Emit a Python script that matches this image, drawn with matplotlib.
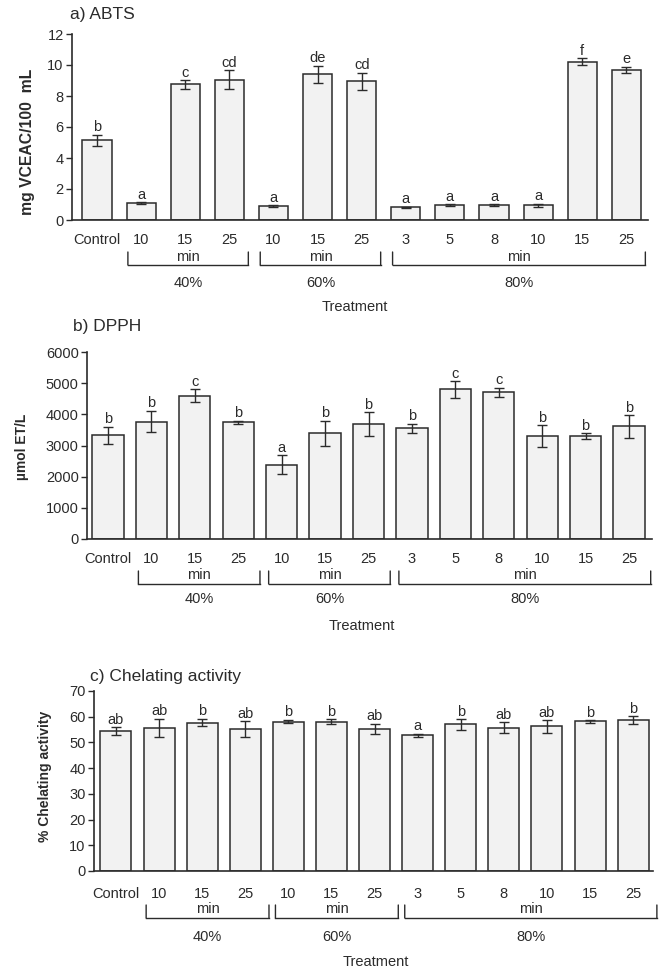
import matplotlib
matplotlib.use('Agg')
import matplotlib.pyplot as plt
from matplotlib.transforms import ScaledTranslation

plt.rcParams['font.family'] = ['Liberation Sans', 'DejaVu Sans']

# ---------------- data ----------------
tick_labels = ['Control', '10', '15', '25', '10', '15', '25', '3', '5', '8', '10', '15', '25']
group_names = ['40%', '60%', '80%']
group_first = [1, 4, 7]
group_last = [3, 6, 12]

abts_mean = [5.15, 1.10, 8.75, 9.05, 0.90, 9.40, 8.95, 0.82, 0.97, 0.97, 0.95, 10.20, 9.68]
abts_err = [0.35, 0.05, 0.28, 0.60, 0.05, 0.55, 0.55, 0.05, 0.04, 0.04, 0.10, 0.22, 0.22]
abts_letters = ['b', 'a', 'c', 'cd', 'a', 'de', 'cd', 'a', 'a', 'a', 'a', 'f', 'e']

dpph_mean = [3330, 3770, 4600, 3740, 2380, 3400, 3690, 3550, 4800, 4710, 3300, 3300, 3610]
dpph_err = [270, 350, 200, 60, 300, 400, 370, 150, 260, 150, 350, 100, 360]
dpph_letters = ['b', 'b', 'c', 'b', 'a', 'b', 'b', 'b', 'c', 'c', 'b', 'b', 'b']

chel_mean = [54.4, 55.7, 57.7, 55.3, 58.1, 58.0, 55.2, 52.8, 57.0, 55.8, 56.2, 58.2, 58.6]
chel_err = [1.5, 3.5, 1.5, 3.0, 0.7, 1.0, 2.0, 0.5, 2.0, 2.0, 2.5, 0.5, 1.5]
chel_letters = ['ab', 'ab', 'b', 'ab', 'b', 'b', 'ab', 'a', 'b', 'ab', 'ab', 'b', 'b']

panels = [
    dict(title='a) ABTS', ylabel='mg VCEAC/100  mL', mean=abts_mean, err=abts_err, letters=abts_letters,
         rect_px=(72, 648, 34, 220), xlim=(-0.567, 12.49), ylim=(0, 12), yticks=range(0, 13, 2),
         width=0.66, title_px=(70, 15), ylab_px=(28, 142), ylab_fs=11.3, pad=9.2,
         off=dict(min=37, line=45, vtop=32, pct=63, treat=87), treat_x=355, br=(-0.3, 0.43)),
    dict(title='b) DPPH', ylabel='µmol ET/L', mean=dpph_mean, err=dpph_err, letters=dpph_letters,
         rect_px=(87, 652, 352, 539), xlim=(-0.484, 12.53), ylim=(0, 6000), yticks=range(0, 6001, 1000),
         width=0.72, title_px=(73, 327), ylab_px=(22, 447), ylab_fs=10, pad=9.2,
         off=dict(min=36, line=45, vtop=32, pct=60, treat=87), treat_x=362, br=(-0.3, 0.5)),
    dict(title='c) Chelating activity', ylabel='% Chelating activity', mean=chel_mean, err=chel_err,
         letters=chel_letters,
         rect_px=(94, 653, 691, 871), xlim=(-0.51, 12.46), ylim=(0, 70), yticks=range(0, 71, 10),
         width=0.72, title_px=(90, 677), ylab_px=(45, 776), ylab_fs=10, pad=11.3,
         off=dict(min=38, line=47, vtop=34, pct=66, treat=91), treat_x=376, br=(-0.3, 0.55)),
]

W, H = 670, 977
DPI = 100
fig = plt.figure(figsize=(W / DPI, H / DPI), dpi=DPI)
fig.patch.set_facecolor('white')

TXT = '#2b2b2b'
LINE = '#2b2b2b'
FS = 10.5

for p in panels:
    l, r, t, b = p['rect_px']
    ax = fig.add_axes([l / W, 1 - b / H, (r - l) / W, (b - t) / H])
    x = list(range(len(tick_labels)))
    ax.bar(x, p['mean'], width=p['width'], color='#f2f2f2', edgecolor=LINE, linewidth=1.1, zorder=2)
    ax.errorbar(x, p['mean'], yerr=p['err'], fmt='none', ecolor=LINE, elinewidth=1.0,
                capsize=3.5, capthick=1.0, zorder=3)
    for xi, m, e, lab in zip(x, p['mean'], p['err'], p['letters']):
        ax.annotate(lab, (xi, m + e), xytext=(0, 2.5), textcoords='offset points',
                    ha='center', va='baseline', fontsize=FS, color=TXT)
    ax.set_xlim(*p['xlim'])
    ax.set_ylim(*p['ylim'])
    ax.set_yticks(list(p['yticks']))
    ax.set_xticks(x, tick_labels)
    ax.tick_params(axis='x', length=0, pad=p['pad'], labelsize=FS, labelcolor=TXT)
    ax.tick_params(axis='y', length=4, width=1.0, color=LINE, direction='out', pad=2,
                   labelsize=FS, labelcolor=TXT)
    for s in ['top', 'right']:
        ax.spines[s].set_visible(False)
    for s in ['left', 'bottom']:
        ax.spines[s].set_color(LINE)
        ax.spines[s].set_linewidth(1.2)
    ax.spines['bottom'].set_zorder(4)

    def off_tr(dy, ax=ax):
        return ax.get_xaxis_transform() + ScaledTranslation(0, -dy / DPI, fig.dpi_scale_trans)

    o = p['off']
    for name, f, la in zip(group_names, group_first, group_last):
        x0 = f + p['br'][0]
        x1 = la + p['br'][1]
        xc = (x0 + x1) / 2
        # horizontal bracket line
        ax.plot([x0, x1], [0, 0], transform=off_tr(o['line']), color=LINE, lw=1.0, clip_on=False)
        # vertical bracket ends
        for xx in (x0, x1):
            ax.annotate('', xy=(xx, 0), xycoords=off_tr(o['line']),
                        xytext=(xx, 0), textcoords=off_tr(o['vtop']),
                        arrowprops=dict(arrowstyle='-', color=LINE, lw=1.0,
                                        shrinkA=0, shrinkB=0))
        ax.text(xc, 0, 'min', transform=off_tr(o['min']), ha='center', va='center',
                fontsize=FS, color=TXT)
        ax.text(xc, 0, name, transform=off_tr(o['pct']), ha='center', va='center',
                fontsize=FS, color=TXT)
    fig.text(p['treat_x'] / W, 1 - (b + o['treat']) / H, 'Treatment', ha='center', va='center',
             fontsize=FS, color=TXT)
    fig.text(p['title_px'][0] / W, 1 - p['title_px'][1] / H, p['title'], ha='left', va='center',
             fontsize=12.5, color=TXT)
    fig.text(p['ylab_px'][0] / W, 1 - p['ylab_px'][1] / H, p['ylabel'], ha='center', va='center',
             rotation=90, fontsize=p['ylab_fs'], fontweight='bold', color=TXT)

fig.savefig('out.png', dpi=DPI)
